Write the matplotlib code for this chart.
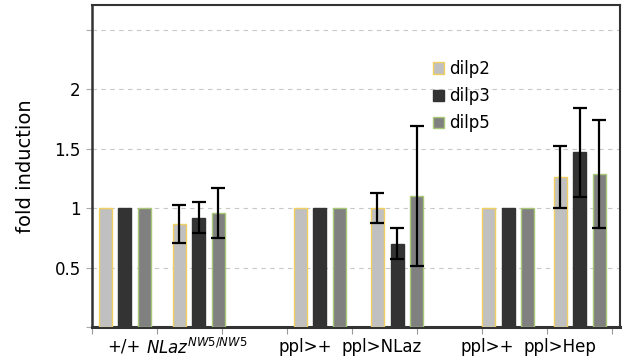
import numpy as np
import matplotlib
matplotlib.use("Agg")
import matplotlib.pyplot as plt

genes = ["dilp2", "dilp3", "dilp5"]
genotypes = ["+/+", r"$\it{NLaz}^{\it{NW5/NW5}}$", "ppl>+", "ppl>NLaz", "ppl>+", "ppl>Hep"]
dilp2 = [1.00, 0.87, 1.00, 1.00, 1.00, 1.26]
dilp3 = [1.00, 0.92, 1.00, 0.70, 1.00, 1.47]
dilp5 = [1.00, 0.96, 1.00, 1.10, 1.00, 1.29]
dilp2_err = [0, 0.16, 0, 0.125, 0, 0.26]
dilp3_err = [0, 0.13, 0, 0.13, 0, 0.375]
dilp5_err = [0, 0.21, 0, 0.59, 0, 0.455]

# layout (axis units: one slot between grey ticks)
group_x = np.array([0.508, 1.646, 3.5, 4.69, 6.4, 7.5])
label_x = [0.49, 1.62, 3.28, 4.45, 6.08, 7.2]
offs = [-0.3, 0.0, 0.3]
fills = ["#c0c0c0", "#333333", "#808080"]
edges = ["#f0d060", "#333333", "#a8c878"]

fig = plt.figure(figsize=(6.29, 3.64), dpi=100)
ax = fig.add_axes([0.146, 0.102, 0.840, 0.884])

series = [dilp2, dilp3, dilp5]
errs = [dilp2_err, dilp3_err, dilp5_err]
for i in range(3):
    vals = np.array(series[i])
    e = np.array(errs[i])
    ax.bar(group_x + offs[i], vals, width=0.2, color=fills[i], edgecolor=edges[i],
           linewidth=1.0, label=genes[i], zorder=3)
    m = e > 0
    ax.errorbar(group_x[m] + offs[i], vals[m], yerr=e[m], fmt="none", ecolor="black",
                elinewidth=1.6, capsize=4.8, capthick=1.6, zorder=4)

ax.set_xlim(0, 8.12)
ax.set_ylim(0, 2.71)
ax.set_yticks([0, 0.5, 1, 1.5, 2, 2.5])
ax.set_yticklabels(["", "0.5", "1", "1.5", "2", ""], fontsize=12)
ax.yaxis.grid(True, color="#c8c8c8", linestyle=(0, (4, 4)), linewidth=0.8)
ax.set_axisbelow(True)
ax.tick_params(axis="y", length=4, color="#aaaaaa", width=0.8, pad=4)

ax.set_xticks(np.arange(0, 9))
ax.set_xticklabels([])
ax.tick_params(axis="x", which="major", length=5, color="#999999", width=0.8)
ax.set_xticks(label_x, minor=True)
ax.set_xticklabels(genotypes, minor=True, fontsize=12)
ax.tick_params(axis="x", which="minor", length=0, pad=8)

for s in ax.spines.values():
    s.set_color("#333333")
    s.set_linewidth(1.5)
ax.spines["bottom"].set_linewidth(2.2)
ax.spines["left"].set_linewidth(1.8)

ax.set_ylabel("fold induction", fontsize=14, labelpad=14)

ax.legend(loc="upper left", bbox_to_anchor=(0.646, 0.83), frameon=False, fontsize=12,
          handlelength=0.65, handleheight=0.65, handletextpad=0.3, labelspacing=0.55,
          borderaxespad=0, borderpad=0)

fig.savefig("out.png", dpi=100, facecolor="white")
